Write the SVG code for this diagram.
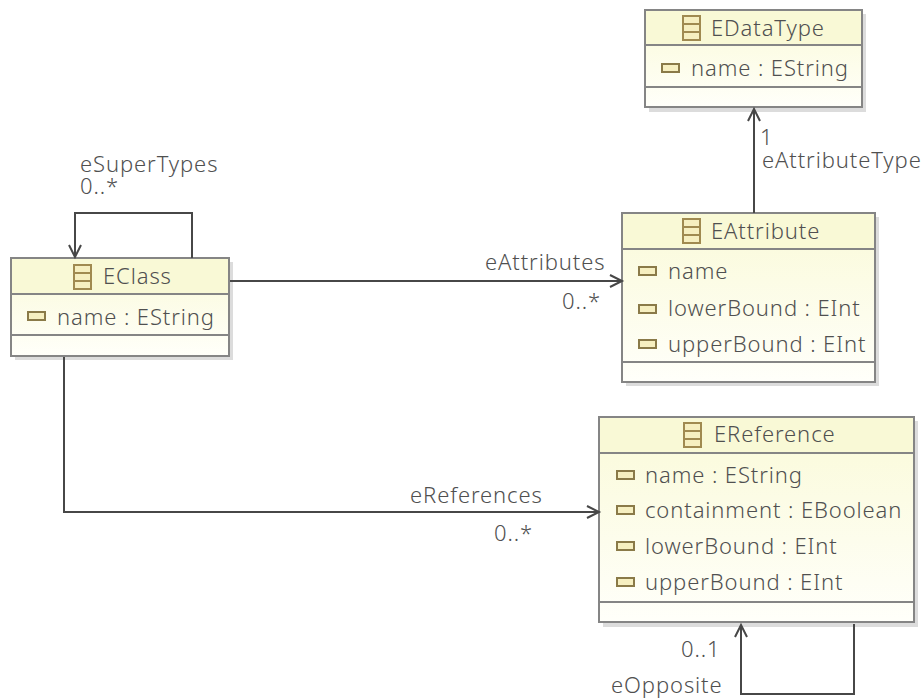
<svg xmlns="http://www.w3.org/2000/svg" width="923" height="700" viewBox="0 0 923 700">
<style>
text{font-family:"Noto Sans","Open Sans",sans-serif;font-size:22px;font-weight:300;letter-spacing:.9px;fill:#505050}
.shadow{fill:#dcdcdc}
.box{fill:url(#body);stroke:#858585;stroke-width:2}
.head{fill:#f9f9d6}
.sep{stroke:#858585;stroke-width:2;fill:none}
.conn{fill:none;stroke:#474747;stroke-width:2}
.attr{fill:#f6efc0;stroke:#8a7a48;stroke-width:2}
.ic{fill:#f6efc0;stroke:#a08a50;stroke-width:2}
.icl{stroke:#a08a50;stroke-width:2}
</style>
<defs>
<linearGradient id="body" x1="0" y1="0" x2="0" y2="1"><stop offset="0" stop-color="#fafad8"/><stop offset="1" stop-color="#fffffa"/></linearGradient>
<marker id="open" markerUnits="userSpaceOnUse" markerWidth="16" markerHeight="18" refX="13" refY="8" orient="auto"><path d="M1 2L13 8L1 14" fill="none" stroke="#474747" stroke-width="2"/></marker>
<g id="classIcon"><rect x="0" y="0" width="17" height="24" class="ic"/><path d="M0 8H17M0 16H17" class="icl"/></g>
</defs>
<g id="EClass">
<rect class="shadow" x="15" y="262" width="218" height="98"/>
<rect class="box" x="11" y="258" width="218" height="98"/>
<rect class="head" x="12" y="259" width="216" height="35"/>
<path class="sep" d="M11 294H229M11 335H229"/>
<use href="#classIcon" x="74" y="265"/>
<text x="103" y="284">EClass</text>
<rect class="attr" x="28" y="312" width="17" height="8"/>
<text x="57" y="325">name : EString</text>
</g>
<g id="EDataType">
<rect class="shadow" x="649" y="14" width="217" height="98"/>
<rect class="box" x="645" y="10" width="217" height="97"/>
<rect class="head" x="646" y="11" width="215" height="34"/>
<path class="sep" d="M645 45H862M645 87H862"/>
<use href="#classIcon" x="683" y="16"/>
<text x="711" y="36">EDataType</text>
<rect class="attr" x="662" y="64" width="17" height="8"/>
<text x="691" y="76">name : EString</text>
</g>
<g id="EAttribute">
<rect class="shadow" x="626" y="217" width="253" height="169"/>
<rect class="box" x="622" y="213" width="253" height="169"/>
<rect class="head" x="623" y="214" width="251" height="35"/>
<path class="sep" d="M622 249H875M622 362H875"/>
<use href="#classIcon" x="683" y="219"/>
<text x="711" y="239">EAttribute</text>
<rect class="attr" x="639" y="267" width="17" height="8"/>
<text x="668" y="279">name</text>
<rect class="attr" x="639" y="305" width="17" height="8"/>
<text x="668" y="316">lowerBound : EInt</text>
<rect class="attr" x="639" y="340" width="17" height="8"/>
<text x="668" y="352">upperBound : EInt</text>
</g>
<g id="EReference">
<rect class="shadow" x="603" y="421" width="315" height="206"/>
<rect class="box" x="599" y="417" width="315" height="205"/>
<rect class="head" x="600" y="418" width="313" height="35"/>
<path class="sep" d="M599 453H914M599 602H914"/>
<use href="#classIcon" x="684" y="423"/>
<text x="714" y="442">EReference</text>
<rect class="attr" x="617" y="471" width="17" height="8"/>
<text x="645" y="483">name : EString</text>
<rect class="attr" x="617" y="506" width="17" height="8"/>
<text x="645" y="518">containment : EBoolean</text>
<rect class="attr" x="617" y="542" width="17" height="8"/>
<text x="645" y="554">lowerBound : EInt</text>
<rect class="attr" x="617" y="578" width="17" height="8"/>
<text x="645" y="590">upperBound : EInt</text>
</g>
<g id="connectors">
<path class="conn" d="M192 258V213H75V257" marker-end="url(#open)"/>
<path class="conn" d="M230 281H622" marker-end="url(#open)"/>
<path class="conn" d="M64 357V512H599" marker-end="url(#open)"/>
<path class="conn" d="M754 213V109" marker-end="url(#open)"/>
<path class="conn" d="M854 624V694H741V625" marker-end="url(#open)"/>
<text x="80" y="172">eSuperTypes</text>
<text x="80" y="194">0..*</text>
<text x="485" y="270">eAttributes</text>
<text x="562" y="309">0..*</text>
<text x="410" y="503">eReferences</text>
<text x="494" y="541">0..*</text>
<text x="760" y="145">1</text>
<text x="762" y="168">eAttributeType</text>
<text x="681" y="657">0..1</text>
<text x="611" y="693">eOpposite</text>
</g>
</svg>
